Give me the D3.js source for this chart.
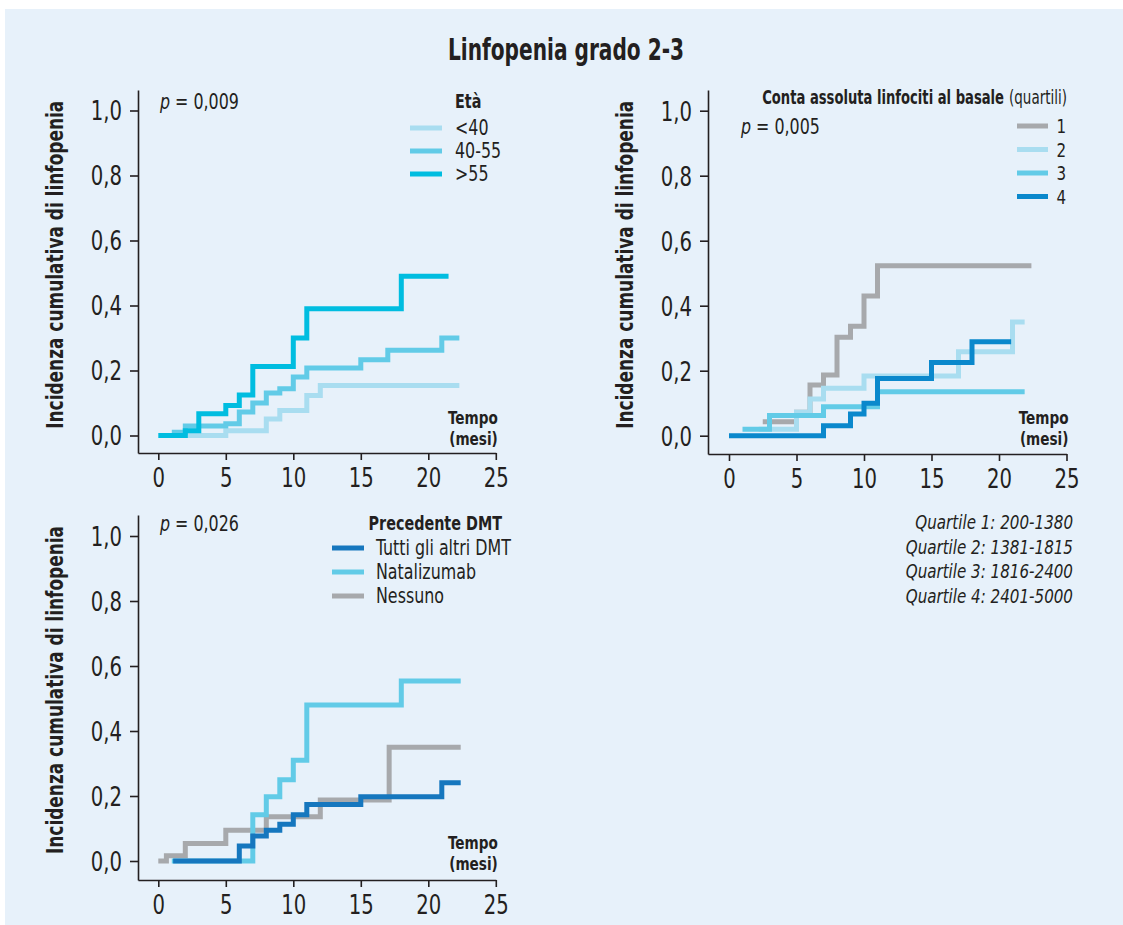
<!DOCTYPE html>
<html>
<head>
<meta charset="utf-8">
<script src="https://cdn.jsdelivr.net/npm/d3@7"></script>
<style>
  html, body { margin: 0; padding: 0; background: #ffffff; }
  svg { display: block; }
  text { font-family: "Liberation Sans Narrow", "DejaVu Sans Condensed", "Arial Narrow", sans-serif; fill: #231f20; }
</style>
</head>
<body>
<svg id="chart" width="1123" height="925"></svg>
<script>
// ---------- data ----------
const chartTitle = "Linfopenia grado 2-3";
const yAxisTitle = "Incidenza cumulativa di linfopenia";
const xTicks = [0, 5, 10, 15, 20, 25];
const yTicks = [0, 0.2, 0.4, 0.6, 0.8, 1.0];

// Panel 1: Età
const etaLabels = ["<40", "40-55", ">55"];
const etaLt40 = [[0.5,0],[5,0.015],[8,0.051],[9,0.077],[11,0.123],[12,0.154],[22.3,0.154]];
const eta40to55 = [[1,0.01],[2,0.029],[5,0.036],[6,0.072],[7,0.1],[8,0.131],[9,0.144],[10,0.18],[11,0.208],[15,0.233],[17,0.262],[21,0.3],[22.3,0.3]];
const etaGt55 = [[0,0],[2,0.015],[3,0.067],[5,0.092],[6,0.125],[7,0.212],[10,0.3],[11,0.39],[18,0.49],[21.5,0.49]];
const etaP = "0,009";

// Panel 2: Conta assoluta linfociti al basale (quartili)
const quartileLabels = ["1", "2", "3", "4"];
const quartile1 = [[2.5,0.043],[5,0.072],[6,0.156],[7,0.187],[8,0.303],[9,0.337],[10,0.43],[11,0.523],[22.4,0.523]];
const quartile2 = [[2.2,0.02],[5,0.072],[6,0.113],[7,0.146],[10,0.184],[17,0.258],[21,0.35],[21.9,0.35]];
const quartile3 = [[1,0.02],[3,0.062],[7,0.089],[11,0.135],[21.9,0.135]];
const quartile4 = [[0,0],[7,0.031],[9,0.067],[10,0.1],[11,0.176],[15,0.225],[18,0.289],[20.9,0.289]];
const quartileP = "0,005";
const quartileNotes = ["Quartile 1: 200-1380", "Quartile 2: 1381-1815", "Quartile 3: 1816-2400", "Quartile 4: 2401-5000"];

// Panel 3: Precedente DMT
const dmtLabels = ["Tutti gli altri DMT", "Natalizumab", "Nessuno"];
const dmtAltri = [[1.1,0],[6,0.046],[7,0.077],[8,0.095],[9,0.113],[10,0.142],[11,0.174],[15,0.198],[21,0.241],[22.4,0.241]];
const dmtNatalizumab = [[1,0],[7,0.142],[8,0.198],[9,0.25],[10,0.31],[11,0.48],[18,0.554],[22.4,0.554]];
const dmtNessuno = [[0,0],[0.6,0.016],[2,0.054],[5,0.095],[8,0.136],[12,0.188],[17.1,0.35],[22.4,0.35]];
const dmtP = "0,026";

// ---------- styles ----------
const C = {
  light: "#a9ddf0",
  mid: "#62cbe7",
  cyan: "#00bde0",
  gray: "#a7a9ac",
  blue4: "#0a88cc",
  blueDmt: "#1677be",
  ink: "#231f20",
  bg: "#e7f1fa"
};

const svg = d3.select("#chart");
svg.append("rect").attr("x", 5).attr("y", 9).attr("width", 1118).attr("height", 916).attr("fill", C.bg);

svg.append("text").attr("x", 566).attr("y", 60).attr("text-anchor", "middle")
  .attr("font-size", 31).attr("font-weight", "bold")
  .attr("textLength", 236).attr("lengthAdjust", "spacingAndGlyphs").attr("class", "fixed")
  .text(chartTitle);

const fmt = d => d3.format(".1f")(d).replace(".", ",");

function panel(opt) {
  const pxPerMonth = 13.5, pxPerUnit = 325;
  const tMin = (opt.axisX - opt.zeroX) / pxPerMonth;
  const vMin = -(opt.axisY - opt.zeroY) / pxPerUnit;
  const vMax = (opt.zeroY - opt.top) / pxPerUnit;
  const x = d3.scaleLinear().domain([tMin, 25]).range([opt.axisX, opt.zeroX + 25 * pxPerMonth]);
  const y = d3.scaleLinear().domain([vMin, vMax]).range([opt.axisY, opt.top]);
  const g = svg.append("g");

  const xAxis = g.append("g").attr("transform", `translate(0,${opt.axisY})`)
    .call(d3.axisBottom(x).tickValues(xTicks).tickSize(7).tickPadding(5).tickSizeOuter(0));
  const yAxis = g.append("g").attr("transform", `translate(${opt.axisX},0)`)
    .call(d3.axisLeft(y).tickValues(yTicks).tickFormat(fmt).tickSize(8).tickPadding(8).tickSizeOuter(0));
  [xAxis, yAxis].forEach(a => {
    a.select(".domain").attr("stroke", C.ink).attr("stroke-width", 1.6);
    a.selectAll(".tick line").attr("stroke", C.ink).attr("stroke-width", 1.6);
    a.selectAll(".tick text").attr("font-size", 26).attr("fill", C.ink)
      .attr("font-family", '"Liberation Sans Narrow", "DejaVu Sans Condensed", sans-serif');
  });
  xAxis.selectAll(".tick text").attr("dy", "0.85em");
  yAxis.selectAll(".tick text").attr("dy", "0.36em");

  // y-axis title
  const cy = (opt.top + opt.zeroY) / 2 + 2;
  g.append("text").attr("transform", `translate(${opt.axisX - 75},${cy}) rotate(-90)`)
    .attr("text-anchor", "middle").attr("font-size", 23).attr("font-weight", "bold")
    .attr("textLength", 328).attr("lengthAdjust", "spacingAndGlyphs").attr("class", "fixed")
    .text(yAxisTitle);

  // Tempo (mesi)
  const rx = x(25) + 2;
  g.append("text").attr("x", rx).attr("y", opt.zeroY - 12).attr("text-anchor", "end")
    .attr("font-size", 18).attr("font-weight", "bold").text("Tempo");
  g.append("text").attr("x", rx).attr("y", opt.zeroY + 9).attr("text-anchor", "end")
    .attr("font-size", 18).attr("font-weight", "bold").text("(mesi)");

  // p-value
  const pt = g.append("text").attr("x", opt.pX).attr("y", opt.pY).attr("font-size", 21);
  pt.append("tspan").attr("font-style", "italic").text("p");
  pt.append("tspan").text(" = " + opt.p);

  const line = d3.line().x(d => x(d[0])).y(d => y(d[1])).curve(d3.curveStepAfter);
  opt.series.forEach(s => {
    g.append("path").datum(s.data).attr("d", line).attr("fill", "none")
      .attr("stroke", s.color).attr("stroke-width", 5).attr("stroke-linejoin", "miter").attr("stroke-linecap", "butt");
  });
  return g;
}

// Panel 1
panel({
  axisX: 138, zeroX: 158.3, zeroY: 435.5, axisY: 453, top: 90,
  pX: 160, pY: 109, p: etaP,
  series: [
    { data: etaLt40, color: C.light },
    { data: eta40to55, color: C.mid },
    { data: etaGt55, color: C.cyan }
  ]
});
// Panel 2
panel({
  axisX: 708, zeroX: 729, zeroY: 435.7, axisY: 454, top: 90,
  pX: 741, pY: 134, p: quartileP,
  series: [
    { data: quartile1, color: C.gray },
    { data: quartile2, color: C.light },
    { data: quartile3, color: C.mid },
    { data: quartile4, color: C.blue4 }
  ]
});
// Panel 3
panel({
  axisX: 138, zeroX: 158.3, zeroY: 861, axisY: 880, top: 515,
  pX: 160, pY: 531, p: dmtP,
  series: [
    { data: dmtNessuno, color: C.gray },
    { data: dmtNatalizumab, color: C.mid },
    { data: dmtAltri, color: C.blueDmt }
  ]
});

// ---------- legends ----------
function legend(items, x1, x2, ys, labelX, anchor, fs) {
  items.forEach((it, i) => {
    svg.append("line").attr("x1", x1).attr("x2", x2).attr("y1", ys[i]).attr("y2", ys[i])
      .attr("stroke", it.color).attr("stroke-width", 5);
    svg.append("text").attr("x", labelX).attr("y", ys[i] + 7).attr("font-size", fs)
      .attr("text-anchor", anchor).text(it.label);
  });
}

// Panel 1 legend
svg.append("text").attr("x", 455).attr("y", 108).attr("font-size", 19).attr("font-weight", "bold").text("Età");
legend([
  { label: etaLabels[0], color: C.light },
  { label: etaLabels[1], color: C.mid },
  { label: etaLabels[2], color: C.cyan }
], 410, 442, [128, 151, 174], 455, "start", 21);

// Panel 2 legend: bold title + regular suffix, each squeezed with a scale transform
function squeezed(xEnd, yBase, str, targetW, bold) {
  const gg = svg.append("g");
  const t = gg.append("text").attr("x", 0).attr("y", 0).attr("font-size", 19)
    .attr("text-anchor", "end").attr("class", "fixed").text(str);
  if (bold) t.attr("font-weight", "bold");
  const w = t.node().getComputedTextLength();
  gg.attr("transform", `translate(${xEnd},${yBase}) scale(${targetW / w},1)`);
}
squeezed(1004, 104, "Conta assoluta linfociti al basale", 242, true);
squeezed(1067, 104, "(quartili)", 58, false);

legend([
  { label: quartileLabels[0], color: C.gray },
  { label: quartileLabels[1], color: C.light },
  { label: quartileLabels[2], color: C.mid },
  { label: quartileLabels[3], color: C.blue4 }
], 1017, 1048, [126, 149.5, 173, 196.5], 1066, "end", 20);

// Panel 3 legend
svg.append("text").attr("x", 502).attr("y", 530).attr("font-size", 19).attr("font-weight", "bold")
  .attr("text-anchor", "end").text("Precedente DMT");
legend([
  { label: dmtLabels[0], color: C.blueDmt },
  { label: dmtLabels[1], color: C.mid },
  { label: dmtLabels[2], color: C.gray }
], 332, 364, [548, 572, 596], 376, "start", 21);

// Quartile notes
quartileNotes.forEach((s, i) => {
  svg.append("text").attr("x", 1073).attr("y", 529 + i * 24.7).attr("font-size", 20)
    .attr("font-style", "italic").attr("text-anchor", "end").text(s);
});

// Condense all free texts horizontally to mimic the narrow typeface of the original
svg.selectAll("text").filter(function () { return !this.classList.contains("fixed"); })
  .each(function () {
    const w = this.getComputedTextLength();
    d3.select(this).attr("textLength", w * 0.84).attr("lengthAdjust", "spacingAndGlyphs");
  });
</script>
</body>
</html>
